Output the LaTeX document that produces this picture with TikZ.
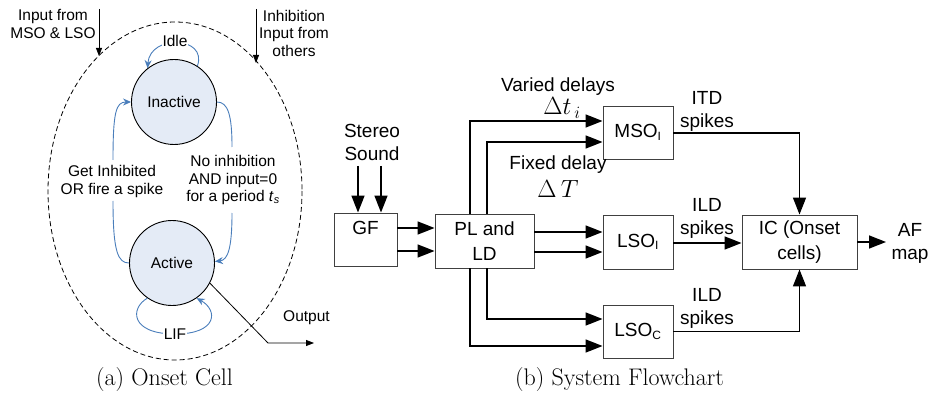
\documentclass[tikz,border=0pt]{standalone}
\usepackage{fontspec}
\setsansfont{Liberation Sans}
\usetikzlibrary{arrows.meta}
\definecolor{cblue}{HTML}{4A7EBB}
\definecolor{cfill}{HTML}{E4EBF6}
\begin{document}
\begin{tikzpicture}[x=1pt,y=-1pt,
  lfont/.style={font=\sffamily\fontsize{15.5}{17.5}\selectfont},
  rfont/.style={font=\sffamily\fontsize{19}{23}\selectfont},
  state/.style={circle,draw=black,line width=0.9pt,fill=cfill,minimum size=85pt,inner sep=0pt,lfont},
  barrow/.style={cblue,line width=0.9pt,-{Stealth[length=8pt,width=7pt]}},
  bline/.style={cblue,line width=0.9pt},
  karrow/.style={black,line width=0.8pt,-{Triangle[length=8pt,width=6pt]}},
  box/.style={draw=black!75,line width=0.9pt,inner sep=0pt,rfont,align=center},
  farrow/.style={black,line width=1.5pt,-{Triangle[length=17pt,width=13pt]}},
  lbl/.style={rfont,align=center,inner sep=0pt},
  llbl/.style={lfont,align=center,inner sep=0pt},
  captext/.style={font=\fontsize{24}{28}\selectfont,inner sep=0pt,anchor=west}]
\useasboundingbox (0,0) rectangle (931,398);
% ---------------- (a) Onset cell ----------------
\draw[dashed,dash pattern=on 5pt off 3pt,line width=0.8pt] (175,191) ellipse [x radius=127, y radius=169];
\node[state] (inactive) at (174,102) {Inactive};
\node[state] (active) at (172,263) {Active};
% Idle loop
\draw[barrow] (inactive.57) .. controls (208,36) and (150,34) .. (inactive.128);
\node[llbl,fill=white,inner xsep=1pt] (idle) at (175,41) {Idle};
% labels
\node[llbl,font=\sffamily\fontsize{15.5}{18}\selectfont] (getinh) at (112,181) {Get Inhibited\\OR fire a spike};
\node[llbl,font=\sffamily\fontsize{15.5}{17.5}\selectfont] (noinh) at (233,180) {No inhibition\\AND input=0\\for a period \textit{t}\textsubscript{\textit{s}}};
\coordinate (gi1) at (113,160);
\coordinate (gi2) at (113,201);
\coordinate (ni1) at (232,147);
\coordinate (ni2) at (232,213);
\draw[barrow] (gi1) .. controls (113,112) and (116,102) .. (inactive.180);
\draw[bline] (gi2) .. controls (113,252) and (118,263) .. (active.180);
\draw[bline] (inactive.0) .. controls (228,102) and (232,115) .. (ni1);
\draw[barrow] (ni2) .. controls (232,248) and (228,260) .. (active.2);
% LIF loop
\draw[barrow] (active.235) .. controls (130,308) and (130,334) .. (175,334) .. controls (218,334) and (218,310) .. (active.305);
\node[llbl,fill=white,inner xsep=1pt] (lif) at (175,334) {LIF};
% inputs
\node[llbl] (inmso) at (53,24) {Input from\\MSO \& LSO};
\node[llbl] (ininh) at (294,33) {Inhibition\\Input from\\others};
\coordinate (a1s) at (99,9);
\coordinate (a1e) at (99,56);
\coordinate (a2s) at (256,9);
\coordinate (a2e) at (256,63);
\draw[karrow] (a1s) -- (a1e);
\draw[karrow] (a2s) -- (a2e);
% output
\coordinate (obend) at (268,343);
\coordinate (oend) at (314,343);
\draw[karrow] (active.-28) -- (obend) -- (oend);
\node[lfont,anchor=west,inner sep=0pt] (outlbl) at (283,318) {Output};
\node[captext] (capa) at (96,380) {(a) Onset Cell};
% ---------------- (b) System flowchart ----------------
\node[box,minimum width=63pt,minimum height=53pt] (gf) at (365.5,239.5) {};
\node[lbl,anchor=north] (gftxt) at ([yshift=-8pt]gf.north) {GF};
\node[box,minimum width=99pt,minimum height=54pt,font=\sffamily\fontsize{19}{25}\selectfont] (pl) at (484.5,241) {PL and\\LD};
\node[box,minimum width=70pt,minimum height=53pt] (mso) at (638,132.5) {MSO\textsubscript{\fontsize{12}{12}\selectfont I}};
\node[box,minimum width=70pt,minimum height=54pt] (lsoi) at (638,242) {LSO\textsubscript{\fontsize{12}{12}\selectfont I}};
\node[box,minimum width=70pt,minimum height=53pt] (lsoc) at (638,331.5) {LSO\textsubscript{\fontsize{12}{12}\selectfont C}};
\node[box,minimum width=115pt,minimum height=54pt,font=\sffamily\fontsize{19}{25}\selectfont] (ic) at (799.5,242) {IC (Onset\\cells)};
% stereo input
\node[lbl] (stereo) at (372,142) {Stereo\\Sound};
\coordinate (s1) at (358,166);
\coordinate (s2) at (381,166);
\draw[farrow] (s1) -- (gf.north -| s1);
\draw[farrow] (s2) -- (gf.north -| s2);
% GF -> PL
\draw[farrow] (gf.east |- 0,228) -- (pl.west |- 0,228);
\draw[farrow] (gf.east |- 0,251) -- (pl.west |- 0,251);
% PL -> MSO
\draw[farrow] (pl.north -| 470,0) |- (mso.west |- 0,121);
\draw[farrow] (pl.north -| 487,0) |- (mso.west |- 0,142);
% PL -> LSO_I
\draw[farrow] (pl.east |- 0,232) -- (lsoi.west |- 0,232);
\draw[farrow] (pl.east |- 0,252) -- (lsoi.west |- 0,252);
% PL -> LSO_C
\draw[farrow] (pl.south -| 487,0) |- (lsoc.west |- 0,319);
\draw[farrow] (pl.south -| 470,0) |- (lsoc.west |- 0,346);
% to IC
\draw[farrow] (mso.east |- 0,133) -| (ic.north);
\draw[farrow] (lsoi.east |- 0,243) -- (ic.west |- 0,243);
\draw[farrow] (lsoc.east) -| (ic.south);
\coordinate (afend) at (886,242);
\draw[farrow] (ic.east) -- (afend);
% labels
\node[lbl] (varied) at (558,87) {Varied delays};
\node[lbl,font=\fontsize{24}{26}\selectfont] (dti) at (562,108) {$\Delta t_{\,i}$};
\node[lbl] (fixed) at (558,165) {Fixed delay};
\node[lbl,font=\fontsize{23}{25}\selectfont] (dT) at (558,189) {$\Delta\,T$};
\node[lbl] (itd) at (707,111) {ITD\\spikes};
\node[lbl] (ild1) at (707,218.5) {ILD\\spikes};
\node[lbl] (ild2) at (707,308.5) {ILD\\spikes};
\node[lbl] (af) at (910,243) {AF\\map};
\node[captext] (capb) at (515,380) {(b) System Flowchart};
\end{tikzpicture}
\end{document}
